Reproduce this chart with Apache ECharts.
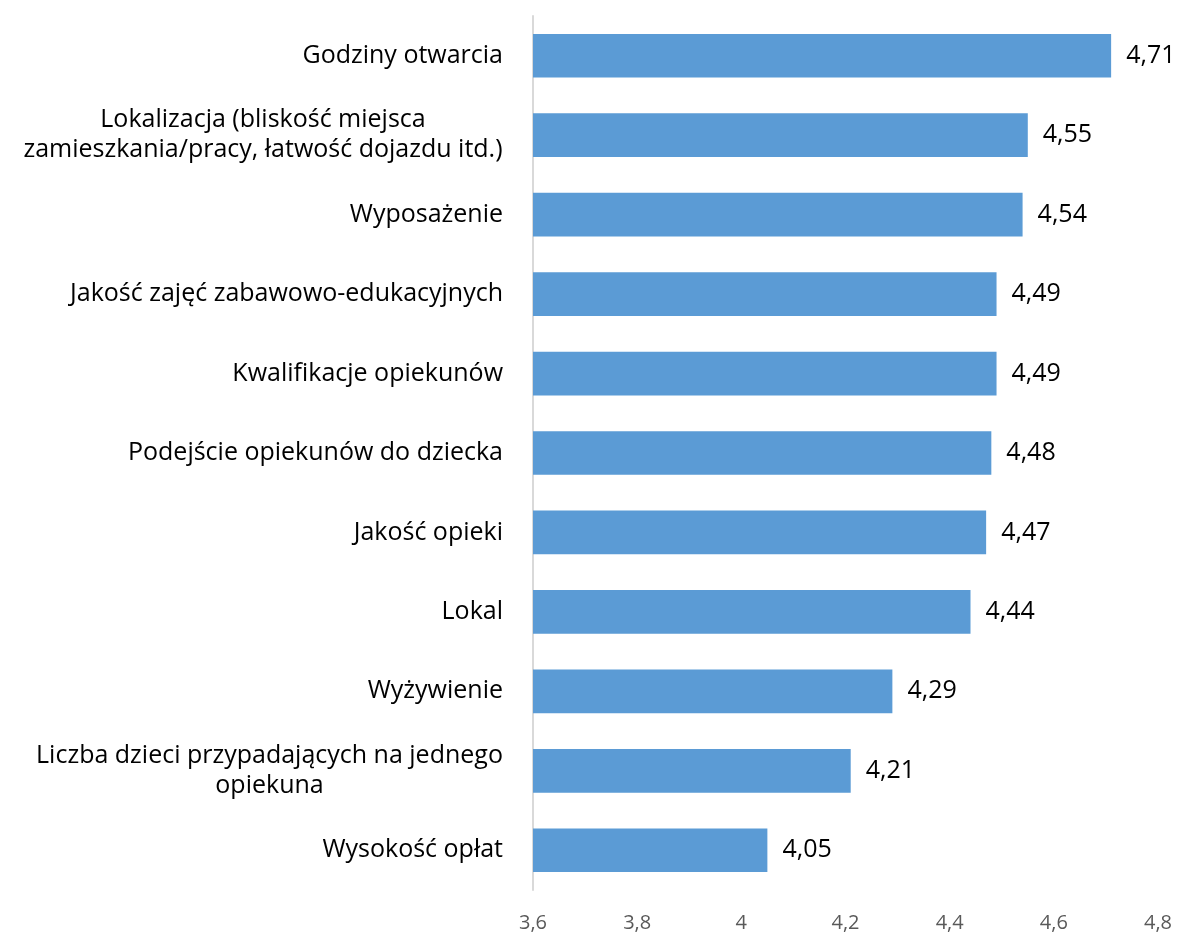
<!DOCTYPE html>
<html>
<head>
<meta charset="utf-8">
<script src="https://cdn.jsdelivr.net/npm/echarts@6/dist/echarts.min.js"></script>
<style>
  html, body { margin: 0; padding: 0; background: #fff; }
  #chart { width: 1181px; height: 933px; }
</style>
</head>
<body>
<div id="chart"></div>
<script>
// kategorie (od góry do dołu)
const categories = [
  "Godziny otwarcia",
  "Lokalizacja (bliskość miejsca\nzamieszkania/pracy, łatwość dojazdu itd.)",
  "Wyposażenie",
  "Jakość zajęć zabawowo-edukacyjnych",
  "Kwalifikacje opiekunów",
  "Podejście opiekunów do dziecka",
  "Jakość opieki",
  "Lokal",
  "Wyżywienie",
  "Liczba dzieci przypadających na jednego\nopiekuna",
  "Wysokość opłat"
];
// średnie oceny
const values = [4.71, 4.55, 4.54, 4.49, 4.49, 4.48, 4.47, 4.44, 4.29, 4.21, 4.05];
// oś X
const axisMin = 3.6;
const axisMax = 4.8;
const axisStep = 0.2;

const fmt = v => String(Math.round(v * 100) / 100).replace(".", ",");

// szerokość najdłuższej linii, żeby etykiety dwuwierszowe były wyśrodkowane
const ctx = document.createElement("canvas").getContext("2d");
ctx.font = "25px 'Open Sans'";
const catLabel = (value, idx) => {
  if (value.indexOf("\n") < 0) return value;
  const lines = value.split("\n");
  const w = Math.ceil(Math.max(...lines.map(l => ctx.measureText(l).width)));
  return lines.map(l => "{c" + idx + "|" + l + "}").join("\n");
};
const rich = {};
categories.forEach((c, i) => {
  if (c.indexOf("\n") >= 0) {
    const w = Math.ceil(Math.max(...c.split("\n").map(l => ctx.measureText(l).width)));
    rich["c" + i] = {
      width: w,
      align: "center",
      fontSize: 25,
      fontFamily: "Open Sans",
      color: "#000000",
      lineHeight: 30
    };
  }
});

const chart = echarts.init(document.getElementById("chart"));
const option = {
  backgroundColor: "#ffffff",
  animation: false,
  grid: { left: 533, right: 23, top: 16, bottom: 42 },
  xAxis: {
    type: "value",
    min: axisMin,
    max: axisMax,
    interval: axisStep,
    axisLine: { show: false },
    axisTick: { show: false },
    splitLine: { show: false },
    axisLabel: {
      color: "#595959",
      fontSize: 20,
      fontFamily: "Open Sans",
      margin: 23,
      formatter: fmt
    }
  },
  yAxis: {
    type: "category",
    inverse: true,
    data: categories,
    axisLine: { show: true, lineStyle: { color: "#d9d9d9", width: 2 } },
    axisTick: { show: false },
    axisLabel: {
      color: "#000000",
      fontSize: 25,
      fontFamily: "Open Sans",
      margin: 30,
      lineHeight: 30,
      align: "right",
      formatter: catLabel,
      rich: rich
    }
  },
  series: [
    {
      type: "bar",
      data: values,
      barCategoryGap: "45%",
      itemStyle: { color: "#5b9bd5" },
      label: {
        show: true,
        position: "right",
        distance: 15,
        color: "#000000",
        fontSize: 25,
        fontFamily: "Open Sans",
        formatter: p => fmt(p.value)
      }
    }
  ]
};
chart.setOption(option);
</script>
</body>
</html>
